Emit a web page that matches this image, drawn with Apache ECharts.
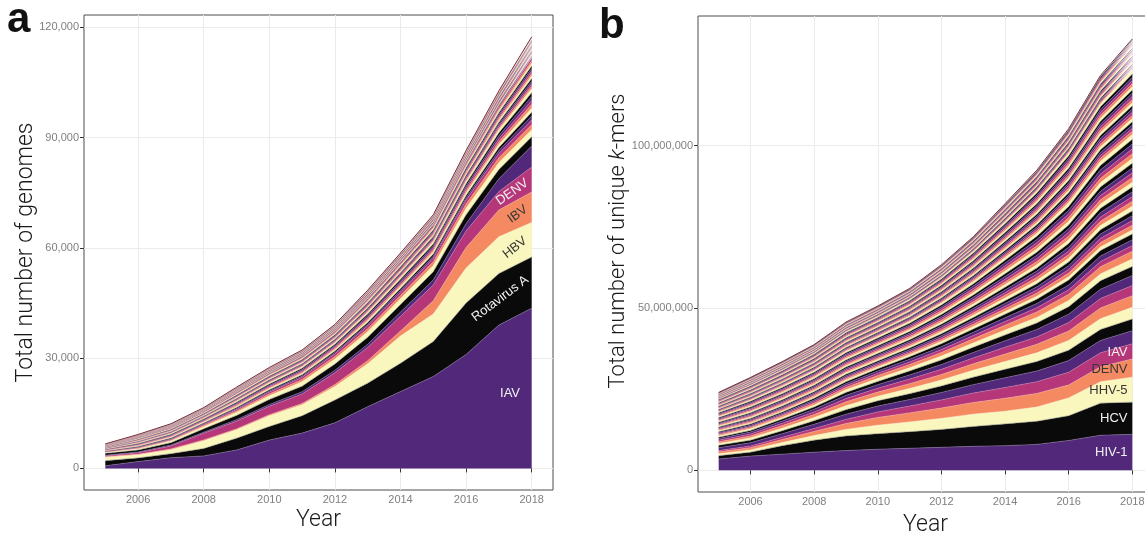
<!DOCTYPE html>
<html>
<head>
<meta charset="utf-8">
<script src="https://cdn.jsdelivr.net/npm/echarts@6/dist/echarts.min.js"></script>
<style>
  html, body { margin: 0; padding: 0; background: #ffffff; }
  #chart { width: 1145px; height: 536px; }
</style>
</head>
<body>
<div id="chart"></div>
<script>
// ---------- shared ----------
const years = [2005, 2006, 2007, 2008, 2009, 2010, 2011, 2012, 2013, 2014, 2015, 2016, 2017, 2018];
const yearTicks = [2006, 2008, 2010, 2012, 2014, 2016, 2018];

// ---------- panel a: total number of genomes (stack order, bottom first) ----------
const genomesIAV        = [700, 1850, 2900, 3400, 5000, 7700, 9600, 12400, 16800, 20900, 25000, 31000, 39000, 43600];
const genomesRotavirusA = [1400, 1000, 1100, 2000, 3200, 3700, 4700, 6200, 6400, 7700, 9500, 14000, 14000, 13900];
const genomesHBV        = [950, 850, 1100, 2100, 2300, 2900, 3000, 3700, 5300, 7400, 7500, 9500, 10000, 9400];
const genomesIBV        = [150, 150, 200, 250, 250, 300, 350, 500, 800, 1400, 3600, 5600, 7300, 8300];
const genomesDENV       = [250, 400, 800, 1800, 2100, 2300, 2600, 3200, 3600, 4000, 4300, 4500, 5000, 6800];
// remaining viruses, one row per virus
const genomesOther = [
  [150, 220, 260, 320, 420, 480, 610, 690, 880, 1120, 1400, 2000, 3500, 5700],
  [500, 560, 650, 900, 1150, 1380, 1520, 1680, 1900, 2050, 2200, 2400, 2500, 2500],
  [200, 290, 420, 580, 820, 980, 1200, 1380, 1520, 1600, 1700, 1800, 1900, 1900],
  [120, 160, 210, 290, 400, 520, 590, 720, 790, 900, 1000, 1100, 1300, 1400],
  [100, 140, 220, 310, 380, 500, 620, 690, 820, 880, 1000, 1100, 1200, 1300],
  [110, 160, 210, 220, 270, 320, 340, 390, 440, 510, 540, 650, 780, 1100],
  [90, 180, 190, 200, 300, 300, 360, 360, 470, 490, 570, 620, 820, 1020],
  [105, 165, 205, 230, 280, 330, 345, 380, 450, 520, 550, 640, 790, 1080],
  [95, 175, 195, 210, 290, 310, 355, 370, 460, 480, 560, 630, 810, 1040],
  [100, 160, 210, 205, 295, 305, 340, 385, 445, 505, 545, 645, 805, 1070],
  [110, 180, 190, 225, 275, 320, 360, 365, 465, 495, 565, 625, 795, 1050],
  [95, 165, 205, 215, 285, 310, 345, 380, 455, 510, 550, 640, 800, 1065],
  [100, 170, 200, 220, 280, 315, 355, 375, 450, 490, 560, 635, 810, 1055],
  [70, 105, 135, 140, 180, 210, 220, 250, 290, 330, 355, 415, 510, 700],
  [60, 115, 125, 145, 190, 200, 230, 240, 300, 320, 365, 405, 530, 680],
  [65, 110, 130, 135, 185, 208, 222, 248, 292, 328, 358, 412, 518, 695],
  [68, 108, 133, 142, 182, 202, 228, 242, 298, 322, 362, 408, 522, 686],
  [62, 112, 127, 138, 188, 207, 223, 247, 293, 327, 357, 413, 517, 692],
  [66, 109, 131, 141, 184, 204, 226, 244, 296, 324, 361, 409, 521, 689],
  [64, 111, 129, 139, 186, 206, 224, 246, 294, 326, 359, 411, 519, 691],
  [70, 100, 140, 130, 190, 200, 230, 240, 300, 320, 370, 400, 530, 680],
  [60, 120, 120, 150, 180, 210, 220, 250, 290, 330, 350, 420, 510, 700],
  [65, 105, 135, 145, 185, 200, 225, 250, 295, 320, 360, 415, 525, 695],
  [65, 115, 125, 135, 185, 210, 225, 240, 295, 330, 360, 405, 515, 685],
  [66, 110, 130, 140, 184, 205, 226, 245, 296, 325, 361, 410, 520, 690],
  [30, 45, 58, 60, 78, 88, 95, 105, 124, 138, 150, 176, 220, 295],
  [26, 49, 54, 58, 80, 84, 97, 101, 126, 136, 154, 172, 218, 289],
  [29, 46, 57, 61, 77, 87, 94, 104, 123, 139, 151, 175, 221, 294],
  [27, 48, 55, 57, 81, 85, 98, 102, 127, 135, 153, 173, 217, 290],
  [28, 47, 56, 59, 79, 86, 96, 103, 125, 137, 152, 174, 219, 292],
  [31, 44, 59, 62, 76, 89, 93, 106, 122, 140, 149, 177, 222, 296],
  [25, 50, 53, 56, 82, 83, 99, 100, 128, 134, 155, 171, 216, 288],
  [28, 47, 56, 60, 79, 86, 96, 103, 125, 137, 152, 174, 219, 292],
  [29, 46, 55, 58, 80, 87, 95, 104, 124, 136, 153, 175, 218, 293],
  [27, 48, 57, 60, 78, 85, 97, 102, 126, 138, 151, 173, 220, 291],
  [28, 47, 56, 59, 79, 86, 96, 103, 125, 137, 152, 174, 219, 292],
  [30, 45, 56, 61, 79, 88, 96, 105, 125, 139, 152, 176, 219, 294],
  [26, 49, 56, 57, 79, 84, 96, 101, 125, 135, 152, 172, 219, 290],
  [28, 47, 58, 59, 77, 86, 98, 103, 123, 137, 154, 174, 217, 292],
  [28, 47, 54, 59, 81, 86, 94, 103, 127, 137, 150, 174, 221, 292],
  [29, 48, 56, 60, 79, 87, 96, 104, 125, 138, 152, 175, 219, 293],
  [27, 46, 56, 58, 79, 85, 96, 102, 125, 136, 152, 173, 219, 291],
  [28, 47, 57, 59, 78, 86, 97, 103, 124, 137, 153, 174, 218, 292],
  [28, 47, 55, 59, 80, 86, 95, 103, 126, 137, 151, 174, 220, 292],
  [28, 47, 56, 59, 79, 86, 96, 103, 125, 137, 152, 174, 219, 292]
];
const genomeTicks = [0, 30000, 60000, 90000, 120000];

// ---------- panel b: total number of unique k-mers, in millions (stack order, bottom first) ----------
const kmersHIV1 = [3.5, 4.4, 5.0, 5.6, 6.1, 6.5, 6.8, 7.1, 7.4, 7.6, 8.0, 9.2, 10.8, 11.1];
const kmersHCV  = [1.0, 1.2, 2.6, 3.7, 4.5, 4.8, 5.1, 5.5, 6.1, 6.7, 7.1, 7.6, 9.9, 9.9];
const kmersHHV5 = [0.6, 0.7, 1.0, 1.4, 2.0, 2.6, 3.0, 3.4, 3.8, 3.9, 4.4, 5.5, 6.6, 7.7];
const kmersDENV = [0.6, 0.7, 0.9, 1.3, 1.8, 2.4, 2.8, 3.2, 3.6, 4.0, 4.2, 4.0, 4.6, 5.6];
const kmersIAV  = [0.4, 0.5, 0.7, 0.9, 1.3, 1.7, 2.1, 2.5, 2.9, 3.3, 3.6, 3.9, 4.3, 4.7];
const kmersOther = [
  [0.9, 1.0, 1.1, 1.3, 1.6, 1.8, 2.0, 2.3, 2.6, 3.0, 3.3, 3.6, 3.8, 4.0],
  [0.7, 0.8, 0.9, 1.1, 1.4, 1.6, 1.8, 2.0, 2.3, 2.6, 2.9, 3.2, 3.4, 3.6],
  [0.6, 0.7, 0.8, 1.0, 1.2, 1.4, 1.6, 1.8, 2.1, 2.4, 2.7, 3.0, 3.3, 3.6],
  [0.5, 0.6, 0.8, 0.9, 1.2, 1.3, 1.5, 1.7, 2.0, 2.3, 2.6, 2.9, 3.3, 3.6],
  [0.5, 0.6, 0.7, 0.8, 1.0, 1.2, 1.4, 1.6, 1.8, 2.1, 2.3, 2.6, 2.9, 3.1],
  [0.5, 0.6, 0.7, 0.8, 1.0, 1.1, 1.3, 1.5, 1.7, 2.0, 2.3, 2.6, 2.9, 3.1],
  [0.4, 0.5, 0.6, 0.7, 0.9, 1.0, 1.2, 1.4, 1.6, 1.8, 2.0, 2.3, 2.6, 2.8],
  [0.4, 0.5, 0.5, 0.6, 0.8, 0.9, 1.0, 1.2, 1.3, 1.5, 1.7, 1.9, 2.1, 2.3],
  [0.4, 0.4, 0.5, 0.6, 0.7, 0.9, 1.0, 1.1, 1.3, 1.5, 1.7, 1.9, 2.2, 2.4],
  [0.3, 0.3, 0.4, 0.5, 0.6, 0.7, 0.8, 0.9, 1.0, 1.1, 1.3, 1.4, 1.6, 1.7],
  [0.3, 0.4, 0.4, 0.5, 0.6, 0.7, 0.8, 0.9, 1.0, 1.2, 1.3, 1.5, 1.7, 1.8],
  [0.3, 0.4, 0.4, 0.5, 0.6, 0.7, 0.8, 0.9, 1.0, 1.1, 1.3, 1.5, 1.7, 1.8],
  [0.3, 0.3, 0.3, 0.4, 0.5, 0.5, 0.6, 0.7, 0.8, 0.8, 0.9, 1.0, 1.1, 1.2],
  [0.31,0.36,0.39,0.42,0.46,0.48,0.53,0.61,0.71,0.86,1.00,1.17,1.35,1.50],
  [0.27,0.34,0.37,0.39,0.43,0.46,0.50,0.57,0.67,0.80,0.95,1.11,1.29,1.44],
  [0.30,0.35,0.38,0.41,0.45,0.47,0.52,0.60,0.70,0.84,0.98,1.15,1.33,1.48],
  [0.28,0.35,0.38,0.40,0.44,0.47,0.50,0.58,0.68,0.82,0.96,1.13,1.31,1.46],
  [0.29,0.34,0.39,0.40,0.45,0.46,0.51,0.59,0.69,0.83,0.97,1.14,1.32,1.47],
  [0.30,0.36,0.37,0.41,0.43,0.48,0.51,0.60,0.68,0.84,0.96,1.15,1.31,1.48],
  [0.28,0.35,0.38,0.39,0.44,0.47,0.52,0.58,0.70,0.82,0.98,1.13,1.33,1.46],
  [0.29,0.35,0.38,0.40,0.45,0.47,0.50,0.59,0.69,0.83,0.97,1.14,1.32,1.47],
  [0.31,0.34,0.38,0.41,0.44,0.46,0.51,0.60,0.69,0.84,0.97,1.13,1.32,1.48],
  [0.27,0.36,0.38,0.40,0.44,0.48,0.51,0.58,0.69,0.82,0.97,1.15,1.32,1.46],
  [0.29,0.35,0.39,0.40,0.44,0.47,0.51,0.59,0.70,0.83,0.98,1.14,1.33,1.47],
  [0.30,0.35,0.37,0.41,0.45,0.47,0.52,0.59,0.68,0.83,0.96,1.14,1.31,1.47],
  [0.28,0.34,0.38,0.39,0.44,0.46,0.50,0.59,0.69,0.82,0.97,1.13,1.32,1.46],
  [0.29,0.36,0.38,0.41,0.45,0.48,0.51,0.60,0.69,0.84,0.97,1.15,1.32,1.48],
  [0.30,0.35,0.38,0.40,0.44,0.47,0.51,0.58,0.70,0.83,0.98,1.14,1.33,1.47],
  [0.28,0.35,0.39,0.40,0.43,0.47,0.52,0.59,0.68,0.83,0.97,1.14,1.31,1.47],
  [0.29,0.34,0.38,0.41,0.45,0.46,0.50,0.60,0.69,0.82,0.96,1.13,1.32,1.48],
  [0.30,0.36,0.37,0.39,0.44,0.48,0.51,0.59,0.70,0.84,0.98,1.15,1.33,1.46],
  [0.29,0.35,0.38,0.40,0.44,0.47,0.51,0.59,0.69,0.83,0.97,1.14,1.32,1.47],
  [0.28,0.35,0.39,0.41,0.45,0.47,0.50,0.58,0.69,0.83,0.97,1.14,1.32,1.47],
  [0.21,0.24,0.26,0.28,0.31,0.32,0.35,0.40,0.47,0.56,0.66,0.78,0.90,1.00],
  [0.19,0.22,0.24,0.26,0.29,0.30,0.33,0.38,0.45,0.54,0.64,0.74,0.86,0.96],
  [0.20,0.23,0.25,0.27,0.30,0.31,0.34,0.39,0.46,0.55,0.65,0.76,0.88,0.98],
  [0.21,0.23,0.26,0.27,0.29,0.32,0.34,0.40,0.46,0.56,0.65,0.77,0.88,0.99],
  [0.19,0.24,0.25,0.28,0.30,0.31,0.35,0.39,0.47,0.55,0.66,0.76,0.89,0.98],
  [0.20,0.22,0.25,0.27,0.31,0.30,0.34,0.38,0.46,0.54,0.65,0.75,0.88,0.97],
  [0.20,0.23,0.24,0.27,0.30,0.31,0.33,0.39,0.45,0.55,0.64,0.76,0.87,0.98],
  [0.21,0.23,0.25,0.26,0.30,0.32,0.34,0.39,0.46,0.56,0.65,0.77,0.88,0.99],
  [0.20,0.24,0.25,0.27,0.29,0.31,0.34,0.40,0.46,0.55,0.65,0.76,0.89,0.98],
  [0.19,0.23,0.26,0.27,0.30,0.31,0.35,0.39,0.47,0.55,0.66,0.76,0.88,0.98],
  [0.20,0.23,0.25,0.28,0.30,0.30,0.34,0.38,0.46,0.54,0.65,0.75,0.88,0.97],
  [0.20,0.22,0.25,0.27,0.31,0.31,0.34,0.39,0.45,0.55,0.64,0.76,0.87,0.98],
  [0.21,0.23,0.24,0.27,0.30,0.32,0.33,0.39,0.46,0.56,0.65,0.77,0.88,0.99],
  [0.20,0.23,0.25,0.26,0.30,0.31,0.34,0.40,0.46,0.55,0.65,0.76,0.88,0.98],
  [0.19,0.24,0.25,0.27,0.29,0.31,0.34,0.39,0.47,0.55,0.66,0.76,0.89,0.98],
  [0.20,0.23,0.26,0.27,0.30,0.31,0.35,0.39,0.46,0.54,0.65,0.75,0.88,0.97],
  [0.20,0.23,0.25,0.28,0.30,0.32,0.34,0.38,0.46,0.55,0.64,0.76,0.87,0.98],
  [0.21,0.22,0.25,0.27,0.31,0.31,0.34,0.39,0.45,0.56,0.65,0.77,0.88,0.99],
  [0.20,0.23,0.24,0.27,0.30,0.30,0.33,0.39,0.46,0.55,0.65,0.76,0.88,0.98],
  [0.19,0.24,0.25,0.26,0.29,0.31,0.34,0.40,0.46,0.55,0.66,0.76,0.89,0.98],
  [0.11,0.12,0.13,0.14,0.15,0.16,0.18,0.20,0.24,0.28,0.33,0.38,0.45,0.50],
  [0.10,0.11,0.12,0.13,0.14,0.15,0.17,0.19,0.23,0.27,0.32,0.37,0.44,0.48],
  [0.10,0.12,0.13,0.13,0.15,0.16,0.17,0.20,0.23,0.28,0.32,0.38,0.44,0.49],
  [0.09,0.12,0.14,0.13,0.16,0.16,0.17,0.21,0.23,0.29,0.32,0.39,0.44,0.50],
  [0.10,0.13,0.13,0.14,0.15,0.17,0.17,0.20,0.22,0.28,0.31,0.38,0.43,0.49],
  [0.11,0.12,0.12,0.13,0.15,0.16,0.16,0.20,0.23,0.27,0.32,0.37,0.44,0.48],
  [0.10,0.11,0.13,0.13,0.14,0.16,0.17,0.19,0.23,0.28,0.33,0.38,0.45,0.49],
  [0.10,0.12,0.13,0.14,0.15,0.15,0.18,0.20,0.24,0.28,0.32,0.38,0.44,0.49],
  [0.09,0.12,0.13,0.13,0.15,0.16,0.17,0.20,0.23,0.29,0.32,0.39,0.44,0.50],
  [0.10,0.13,0.14,0.13,0.16,0.16,0.17,0.21,0.23,0.28,0.31,0.38,0.43,0.49],
  [0.11,0.12,0.13,0.14,0.15,0.17,0.17,0.20,0.22,0.28,0.32,0.37,0.44,0.48],
  [0.10,0.11,0.12,0.13,0.14,0.16,0.16,0.19,0.23,0.27,0.32,0.38,0.45,0.49],
  [0.10,0.12,0.13,0.13,0.15,0.16,0.17,0.20,0.23,0.28,0.33,0.38,0.44,0.49],
  [0.10,0.12,0.13,0.14,0.15,0.15,0.18,0.20,0.24,0.28,0.32,0.39,0.44,0.50],
  [0.09,0.13,0.13,0.13,0.16,0.16,0.17,0.21,0.23,0.29,0.32,0.38,0.43,0.49],
  [0.11,0.12,0.14,0.13,0.15,0.17,0.17,0.20,0.22,0.28,0.31,0.37,0.44,0.48],
  [0.10,0.11,0.13,0.14,0.14,0.16,0.16,0.19,0.23,0.27,0.32,0.38,0.45,0.49],
  [0.10,0.12,0.12,0.13,0.15,0.16,0.17,0.20,0.23,0.28,0.33,0.38,0.44,0.49],
  [0.10,0.12,0.13,0.13,0.15,0.15,0.18,0.20,0.24,0.28,0.32,0.39,0.44,0.50],
  [0.09,0.13,0.13,0.14,0.16,0.16,0.17,0.21,0.23,0.29,0.32,0.38,0.43,0.49]
];
const kmerTicksM = [0, 50, 100];

// ---------- styling ----------
const palette = ['#52297a', '#0a0a0a', '#faf7be', '#f58a62', '#b6367a'];
const lightText = '#f2f2f2';
const darkText = '#363636';
const titleFont = 'Roboto, "Liberation Sans", sans-serif';
const tickFont = '"Liberation Sans", Arial, sans-serif';

// band edge colour: the band's fill lifted towards white
function edgeColour(hex, w) {
  const n = parseInt(hex.slice(1), 16);
  const c = [(n >> 16) & 255, (n >> 8) & 255, n & 255].map(v => Math.round(v + (255 - v) * w));
  return 'rgb(' + c.join(',') + ')';
}

const layersA = [genomesIAV, genomesRotavirusA, genomesHBV, genomesIBV, genomesDENV].concat(genomesOther);
const layersB = [kmersHIV1, kmersHCV, kmersHHV5, kmersDENV, kmersIAV].concat(kmersOther);

const labelsA = [
  { layer: 0, text: 'IAV',         x: 2017.34, rotate: 0,  color: lightText },
  { layer: 1, text: 'Rotavirus A', x: 2017.04, rotate: 37, color: lightText },
  { layer: 2, text: 'HBV',         x: 2017.49, rotate: 38, color: darkText },
  { layer: 3, text: 'IBV',         x: 2017.57, rotate: 36, color: darkText },
  { layer: 4, text: 'DENV',        x: 2017.41, rotate: 35, color: lightText }
];
const labelsB = [
  { layer: 0, text: 'HIV-1', x: 2017.85, color: lightText },
  { layer: 1, text: 'HCV',   x: 2017.85, color: lightText },
  { layer: 2, text: 'HHV-5', x: 2017.85, color: darkText },
  { layer: 3, text: 'DENV',  x: 2017.85, color: darkText },
  { layer: 4, text: 'IAV',   x: 2017.85, color: lightText }
];

// value of a layer row at a fractional year
function valueAt(row, x) {
  const f = x - years[0];
  const i = Math.min(Math.floor(f), years.length - 2);
  const t = f - i;
  return row[i] * (1 - t) + row[i + 1] * t;
}
// middle of a stacked band at a fractional year
function bandMid(layers, k, x) {
  let base = 0;
  for (let j = 0; j < k; j++) base += valueAt(layers[j], x);
  return base + valueAt(layers[k], x) / 2;
}

// Each point is [value, year]; the value column comes first so that it is
// the dimension ECharts stacks (the year column is mapped to x through encode).
function buildSeries(layers, labels, axisIdx, stackName, alignRight) {
  return layers.map((row, i) => {
    const isTop = i === layers.length - 1;
    const fill = palette[i % 5];
    const s = {
      type: 'line',
      xAxisIndex: axisIdx,
      yAxisIndex: axisIdx,
      stack: stackName,
      symbol: 'none',
      silent: true,
      encode: { x: 1, y: 0 },
      data: years.map((y, j) => [row[j], y]),
      lineStyle: isTop ? { color: '#7a3347', width: 1 } : { color: edgeColour(fill, 0.4), width: 0.5 },
      areaStyle: { color: fill, opacity: 1 },
      z: 2
    };
    const lab = labels.filter(l => l.layer === i);
    if (lab.length) {
      s.markPoint = {
        silent: true,
        symbol: 'circle',
        symbolSize: 1,
        itemStyle: { color: 'rgba(0,0,0,0)' },
        data: lab.map(l => ({
          coord: [l.x, bandMid(layers, i, l.x)],
          label: {
            show: true,
            formatter: l.text,
            position: 'inside',
            rotate: l.rotate || 0,
            align: alignRight ? 'right' : 'center',
            verticalAlign: 'middle',
            color: l.color,
            fontSize: 13,
            fontFamily: tickFont
          }
        }))
      };
    }
    return s;
  });
}

function xAxisCfg(gridIndex, nameGap) {
  return {
    type: 'value', gridIndex,
    min: 2004.35, max: 2018.65,
    name: 'Year', nameLocation: 'middle', nameGap, nameMoveOverlap: false,
    nameTextStyle: { fontSize: 23, fontFamily: titleFont, fontWeight: 300, color: '#1a1a1a' },
    axisLine: { show: false },
    axisTick: { show: true, length: 4, customValues: yearTicks, lineStyle: { color: '#333', width: 1 } },
    axisLabel: { customValues: yearTicks, margin: 4, fontSize: 11, color: '#7f7f7f', fontFamily: tickFont,
                 formatter: v => String(v) },
    splitLine: { show: true, lineStyle: { color: '#ebebeb', width: 1 } }
  };
}

const option = {
  animation: false,
  backgroundColor: '#ffffff',
  grid: [
    { left: 84, top: 15, width: 469, height: 475, show: true, borderColor: '#4d4d4d', borderWidth: 1,
      backgroundColor: 'transparent', outerBoundsMode: 'none', containLabel: false },
    { left: 698, top: 16, width: 455, height: 476, show: true, borderColor: '#4d4d4d', borderWidth: 1,
      backgroundColor: 'transparent', outerBoundsMode: 'none', containLabel: false }
  ],
  xAxis: [xAxisCfg(0, 19), xAxisCfg(1, 22)],
  yAxis: [
    {
      type: 'value', gridIndex: 0, min: -5875, max: 123350,
      name: 'Total number of genomes', nameLocation: 'middle', nameGap: 46, nameMoveOverlap: false,
      nameTextStyle: { fontSize: 23, fontFamily: titleFont, fontWeight: 300, color: '#1a1a1a' },
      axisLine: { show: false },
      axisTick: { show: true, length: 4, customValues: genomeTicks, lineStyle: { color: '#333', width: 1 } },
      axisLabel: { customValues: genomeTicks, margin: 5, fontSize: 11, color: '#7f7f7f', fontFamily: tickFont,
                   formatter: v => v.toLocaleString('en-US') },
      splitLine: { show: true, lineStyle: { color: '#ebebeb', width: 1 } }
    },
    {
      type: 'value', gridIndex: 1, min: -6.66, max: 139.9,
      name: '{n|Total number of unique }{k|k}{n|-mers}', nameLocation: 'middle', nameGap: 69, nameMoveOverlap: false,
      nameTextStyle: {
        fontSize: 22, fontFamily: titleFont, fontWeight: 300, color: '#1a1a1a',
        padding: [0, 0, 0, 26],
        rich: {
          n: { fontSize: 22, fontFamily: titleFont, fontWeight: 300, color: '#1a1a1a' },
          k: { fontSize: 22, fontFamily: titleFont, fontWeight: 300, fontStyle: 'italic', color: '#1a1a1a' }
        }
      },
      axisLine: { show: false },
      axisTick: { show: true, length: 4, customValues: kmerTicksM, lineStyle: { color: '#333', width: 1 } },
      axisLabel: { customValues: kmerTicksM, margin: 5, fontSize: 11, color: '#7f7f7f', fontFamily: tickFont,
                   formatter: v => Math.round(v * 1e6).toLocaleString('en-US') },
      splitLine: { show: true, lineStyle: { color: '#ebebeb', width: 1 } }
    }
  ],
  graphic: [
    { type: 'text', x: 7, y: 20, style: { text: 'a', font: 'bold 42px "Liberation Sans", sans-serif', fill: '#111', verticalAlign: 'middle' } },
    { type: 'text', x: 599, y: 26, style: { text: 'b', font: 'bold 42px "Liberation Sans", sans-serif', fill: '#111', verticalAlign: 'middle' } }
  ],
  series: buildSeries(layersA, labelsA, 0, 'genomes', false)
    .concat(buildSeries(layersB, labelsB, 1, 'kmers', true))
};

const chart = echarts.init(document.getElementById('chart'), null, { renderer: 'canvas' });
chart.setOption(option);
</script>
</body>
</html>
